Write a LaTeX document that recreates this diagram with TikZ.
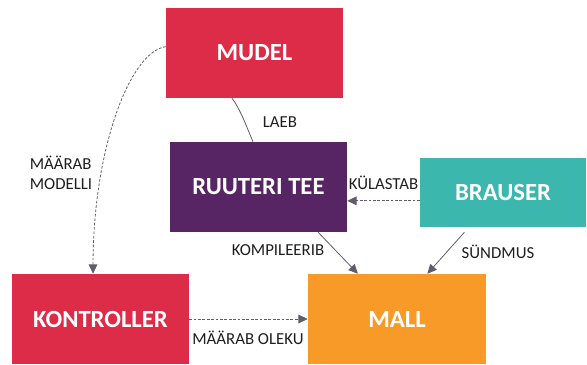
\documentclass[tikz,border=0pt]{standalone}
\usepackage{fontspec}
\setmainfont{Carlito}
\usetikzlibrary{calc,arrows.meta}
\definecolor{boxred}{RGB}{221,44,71}
\definecolor{boxpurple}{RGB}{87,37,100}
\definecolor{boxteal}{RGB}{59,183,173}
\definecolor{boxorange}{RGB}{247,154,39}
\definecolor{linkgray}{RGB}{98,92,106}
\definecolor{labelink}{RGB}{30,30,30}
\tikzset{
  block/.style={rectangle, inner sep=0pt, text=white,
    font=\fontsize{18.5}{20}\selectfont\bfseries},
  linklabel/.style={text=labelink, inner sep=1pt,
    font=\fontsize{12.6}{15}\selectfont},
  link/.style={draw=linkgray, line width=0.6pt},
  flow/.style={link, dash pattern=on 2pt off 1.3pt},
  tip/.style={-{Triangle[length=7pt,width=6.5pt]}}
}
\begin{document}
\begin{tikzpicture}[x=0.75pt,y=-0.75pt]
\useasboundingbox (0,0) rectangle (587,365);

% boxes
\node[block, fill=boxred, minimum width=132.75pt, minimum height=67.5pt]
  (mudel) at (254.5,53) {MUDEL};
\node[block, fill=boxpurple, minimum width=132.75pt, minimum height=67.5pt]
  (ruuteri) at (258.5,187) {RUUTERI TEE};
\node[block, fill=boxteal, minimum width=124.5pt, minimum height=51.75pt]
  (brauser) at (503,192.5) {BRAUSER};
\node[block, fill=boxred, minimum width=132.75pt, minimum height=67.5pt]
  (kontroller) at (100.5,319) {KONTROLLER};
\node[block, fill=boxorange, minimum width=133.5pt, minimum height=67.5pt]
  (mall) at (397,319) {MALL};

% attachment points along the box edges
\coordinate (mL) at ($(mudel.north west)!0.43!(mudel.south west)$);
\coordinate (kT) at ($(kontroller.north west)!0.458!(kontroller.north east)$);
\coordinate (mB) at ($(mudel.south west)!0.373!(mudel.south east)$);
\coordinate (rT) at ($(ruuteri.north west)!0.469!(ruuteri.north east)$);
\coordinate (bL) at ($(brauser.north west)!0.62!(brauser.south west)$);
\coordinate (rB) at ($(ruuteri.south west)!0.836!(ruuteri.south east)$);
\coordinate (maT1) at ($(mall.north west)!0.281!(mall.north east)$);
\coordinate (bB) at ($(brauser.south west)!0.295!(brauser.south east)$);
\coordinate (maT2) at ($(mall.north west)!0.67!(mall.north east)$);

% connectors
\draw[flow, tip] (mL) .. controls ($(mL)+(-36,5)$) and ($(kT)+(0,-124)$) .. (kT);
\draw[link] (mB) .. controls ($(mB)+(8,10)$) and ($(rT)+(-6,-14)$) .. (rT);
\draw[flow, tip] (bL) -- (bL -| ruuteri.east);
\draw[link, tip] (rB) -- (maT1);
\draw[link, tip, shorten <=5pt] (bB) -- (maT2);
\draw[flow, tip] (kontroller.east) -- (mall.west);

% labels
\node[linklabel, align=left] (lmodelli) at (61,173) {MÄÄRAB\\MODELLI};
\node[linklabel] (llaeb) at (280,122) {LAEB};
\node[linklabel] (lkulastab) at (383.5,182.5) {KÜLASTAB};
\node[linklabel] (lkomp) at (278,250) {KOMPILEERIB};
\node[linklabel] (lsundmus) at (498,252) {SÜNDMUS};
\node[linklabel] (lolek) at (248,338) {MÄÄRAB OLEKU};
\end{tikzpicture}
\end{document}
